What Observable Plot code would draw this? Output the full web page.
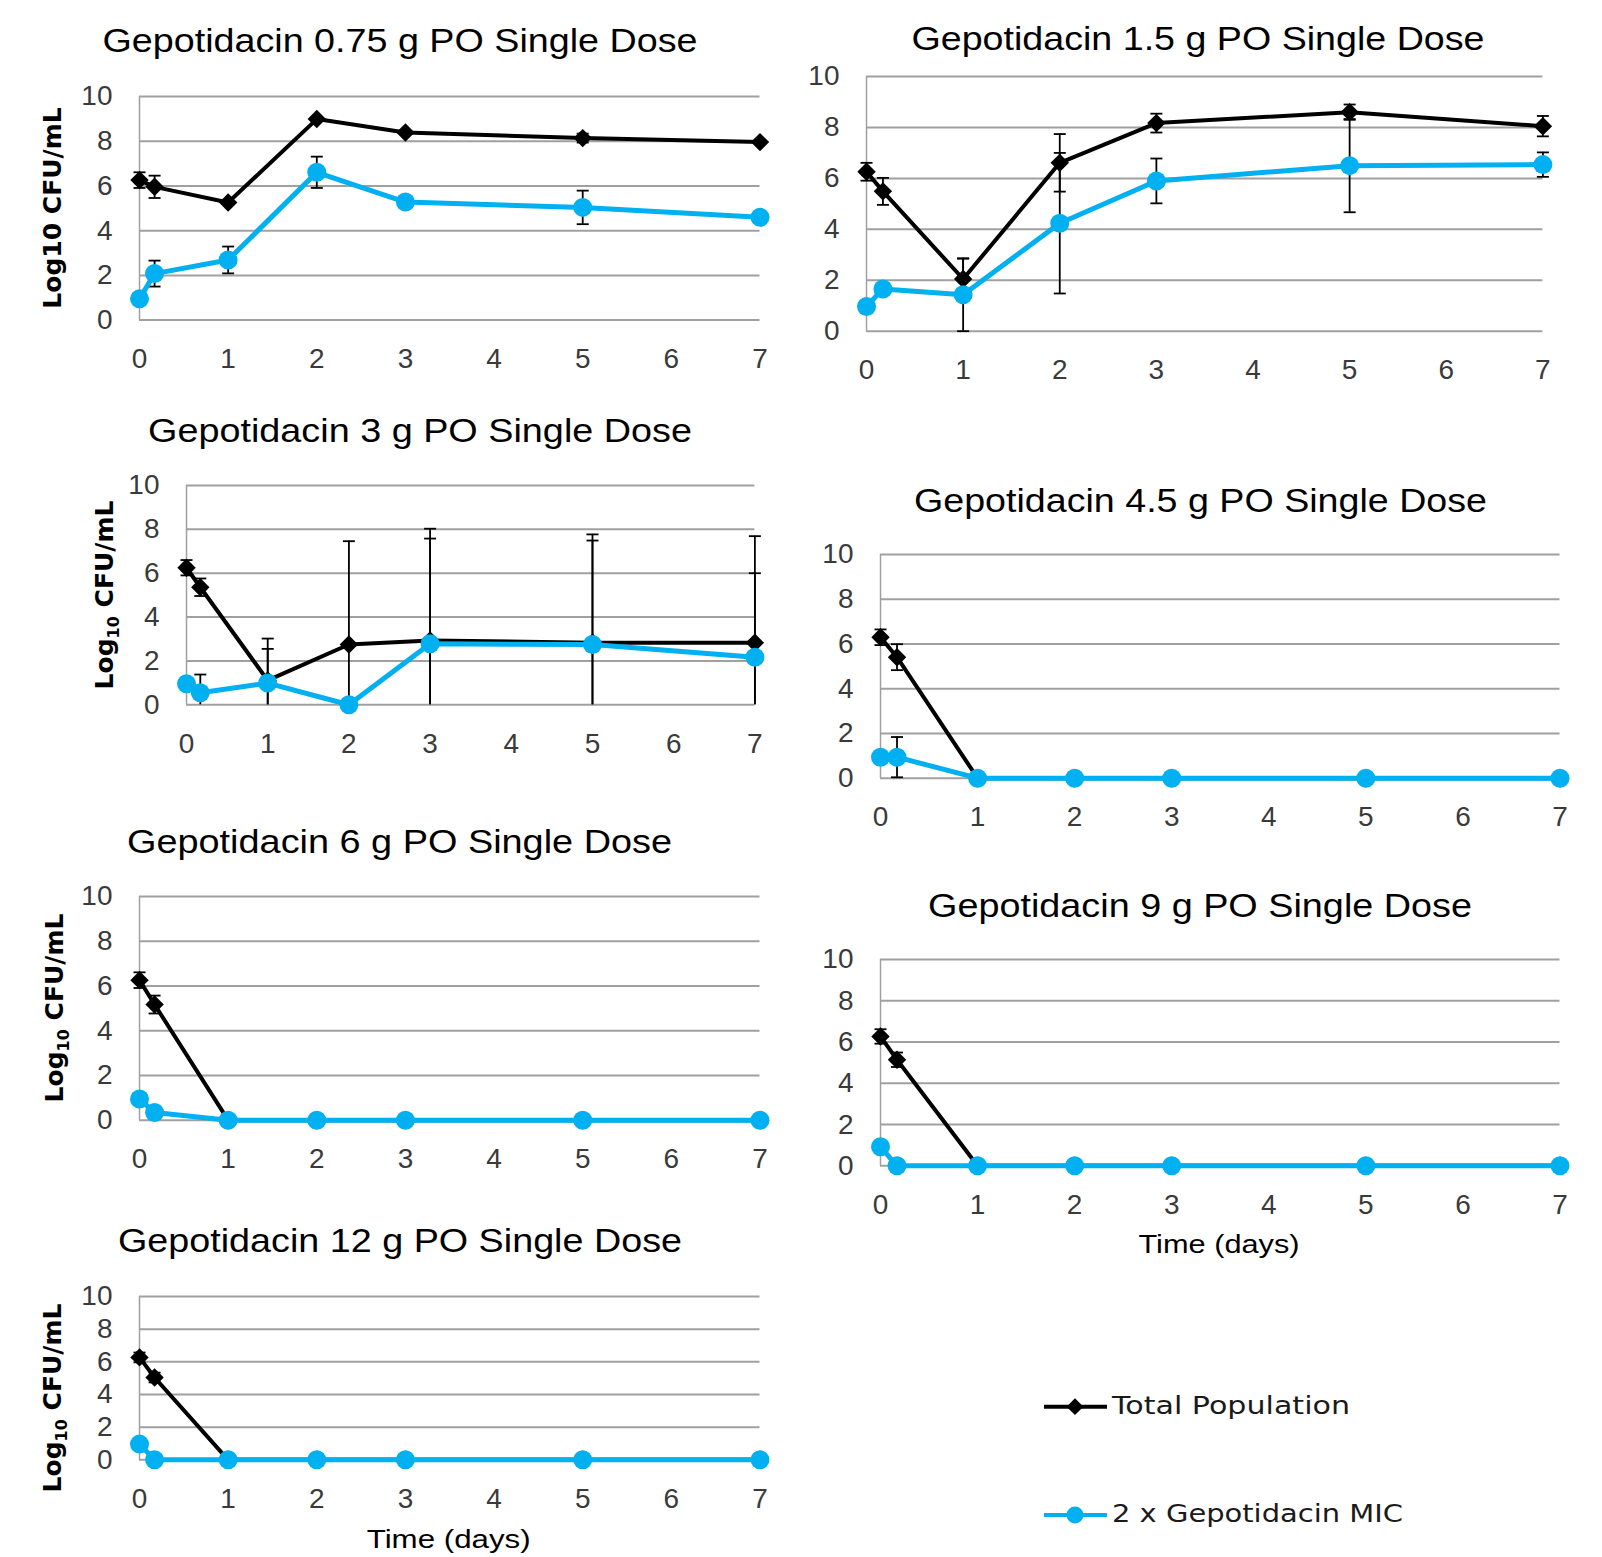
<!DOCTYPE html>
<html><head><meta charset="utf-8">
<script src="https://cdn.jsdelivr.net/npm/d3@7"></script>
<script src="https://cdn.jsdelivr.net/npm/@observablehq/plot@0.6"></script>
<style>
body{margin:0;background:#fff;}
#root{position:relative;width:1602px;height:1557px;background:#fff;overflow:hidden;}
.panel{position:absolute;}
.panel svg{overflow:visible;max-width:none;}
#overlay{position:absolute;left:0;top:0;pointer-events:none;overflow:visible;}
</style></head><body><div id="root"></div>
<script>
// ---- data ----
const days = [0, 0.17, 1, 2, 3, 5, 7];
const xTicks = [0, 1, 2, 3, 4, 5, 6, 7];
const yTicks = [0, 2, 4, 6, 8, 10];
const seriesNames = ["Total Population", "2 x Gepotidacin MIC"];
const titles = [
  "Gepotidacin 0.75 g PO Single Dose",
  "Gepotidacin 1.5 g PO Single Dose",
  "Gepotidacin 3 g PO Single Dose",
  "Gepotidacin 4.5 g PO Single Dose",
  "Gepotidacin 6 g PO Single Dose",
  "Gepotidacin 9 g PO Single Dose",
  "Gepotidacin 12 g PO Single Dose"
];
const xLabel = "Time (days)";

const total075 = [6.26, 5.96, 5.26, 8.99, 8.39, 8.14, 7.96];
const total075Err = [0.35, 0.5, 0, 0, 0, 0.2, 0];
const mic075 = [0.95, 2.08, 2.69, 6.61, 5.28, 5.04, 4.6];
const mic075Err = [0, 0.58, 0.6, 0.7, 0, 0.75, 0];

const total15 = [6.26, 5.49, 2.05, 6.61, 8.17, 8.6, 8.05];
const total15Err = [0.35, 0.53, 0.8, 1.13, 0.37, 0.3, 0.4];
const mic15 = [0.97, 1.66, 1.43, 4.24, 5.9, 6.5, 6.54];
const mic15Err = [0, 0, 1.43, 2.76, 0.88, 1.83, 0.48];

const total3 = [6.25, 5.36, 1.11, 2.75, 2.93, 2.83, 2.83];
const total3Err = [0.35, 0.4, 1.91, 4.71, 5.1, 4.94, 4.86];
const mic3 = [0.96, 0.55, 0.99, 0, 2.78, 2.75, 2.17];
const mic3Err = [0, 0.83, 1.56, 0, 4.8, 4.74, 3.83];

const total45 = [6.3, 5.41, 0, 0, 0, 0, 0];
const total45Err = [0.35, 0.58, 0, 0, 0, 0, 0];
const mic45 = [0.94, 0.94, 0, 0, 0, 0, 0];
const mic45Err = [0, 0.9, 0, 0, 0, 0, 0];

const total6 = [6.26, 5.17, 0, 0, 0, 0, 0];
const total6Err = [0.35, 0.4, 0, 0, 0, 0, 0];
const mic6 = [0.95, 0.34, 0, 0, 0, 0, 0];
const mic6Err = [0, 0, 0, 0, 0, 0, 0];

const total9 = [6.27, 5.14, 0, 0, 0, 0, 0];
const total9Err = [0.35, 0.35, 0, 0, 0, 0, 0];
const mic9 = [0.92, 0, 0, 0, 0, 0, 0];
const mic9Err = [0, 0, 0, 0, 0, 0, 0];

const total12 = [6.27, 5.04, 0, 0, 0, 0, 0];
const total12Err = [0.3, 0.3, 0, 0, 0, 0, 0];
const mic12 = [0.96, 0, 0, 0, 0, 0, 0];
const mic12Err = [0, 0, 0, 0, 0, 0, 0];

const panelData = [
  [total075, total075Err, mic075, mic075Err],
  [total15, total15Err, mic15, mic15Err],
  [total3, total3Err, mic3, mic3Err],
  [total45, total45Err, mic45, mic45Err],
  [total6, total6Err, mic6, mic6Err],
  [total9, total9Err, mic9, mic9Err],
  [total12, total12Err, mic12, mic12Err]
];

// ---- layout & style ----
const BLACK = "#000000", BLUE = "#00B0F0", GRID = "#a0a0a0";
const layout = [
  {x0: 138.5, x7: 759, y10: 95.7, y0: 319.3, tx: 400, ty: 52, tw: 595, yl: [61, 208, false]},
  {x0: 865.6, x7: 1542, y10: 76, y0: 330.7, tx: 1198, ty: 50, tw: 573, yl: null},
  {x0: 185.6, x7: 754, y10: 485, y0: 704.3, tx: 420, ty: 441.7, tw: 544, yl: [113, 595, true]},
  {x0: 879.5, x7: 1559, y10: 554, y0: 777.7, tx: 1200.5, ty: 511.7, tw: 573, yl: null},
  {x0: 138.5, x7: 759, y10: 896.3, y0: 1120, tx: 399.5, ty: 853, tw: 545, yl: [63, 1008, true]},
  {x0: 879.5, x7: 1559, y10: 958.7, y0: 1165, tx: 1200, ty: 916.7, tw: 544, yl: null, xl: [1219, 1253.3, 161]},
  {x0: 138.5, x7: 759, y10: 1295.7, y0: 1459, tx: 400, ty: 1251.7, tw: 564, yl: [61, 1398, true], xl: [448.7, 1548, 164]}
];
const ML = 80, MR = 25, MT = 20, MB = 60;
const SANS = "'Liberation Sans', Arial, sans-serif";
const WIDE = "'DejaVu Sans', sans-serif";

const capSymbol = {
  draw(ctx, size) {
    const w = Math.sqrt(size / Math.PI);
    ctx.moveTo(-w, 0);
    ctx.lineTo(w, 0);
  }
};

const root = document.getElementById("root");

layout.forEach((L, i) => {
  const [tv, te, mv, me] = panelData[i];
  const tot = days.map((d, j) => ({day: d, v: tv[j], e: te[j], s: seriesNames[0]}));
  const mic = days.map((d, j) => ({day: d, v: mv[j], e: me[j], s: seriesNames[1]}));
  const errs = [...tot, ...mic].filter(r => r.e > 0);
  const bars = errs.map(r => ({day: r.day, lo: Math.max(0, r.v - r.e), hi: r.v + r.e}));
  const caps = errs.flatMap(r => {
    const out = [{day: r.day, y: r.v + r.e}];
    if (r.v - r.e >= 0) out.push({day: r.day, y: r.v - r.e});
    return out;
  });
  const w = (L.x7 - L.x0) + ML + MR;
  const h = (L.y0 - L.y10) + MT + MB;
  const chart = Plot.plot({
    width: w, height: h,
    marginLeft: ML, marginRight: MR, marginTop: MT, marginBottom: MB,
    style: {background: "transparent", overflow: "visible", fontFamily: SANS, fontSize: "28px", color: "#3a3a3a"},
    x: {domain: [0, 7]},
    y: {domain: [0, 10]},
    marks: [
      Plot.gridY(yTicks, {stroke: GRID, strokeOpacity: 1, strokeWidth: 2}),
      Plot.ruleX([0], {stroke: GRID, strokeWidth: 1.5}),
      Plot.axisX(xTicks, {tickSize: 0, tickPadding: 28, label: null, tickFormat: d => String(d)}),
      Plot.axisY(yTicks, {tickSize: 0, tickPadding: 27, label: null, tickFormat: d => String(d)}),
      Plot.ruleX(bars, {x: "day", y1: "lo", y2: "hi", stroke: BLACK, strokeWidth: 1.8}),
      Plot.dot(caps, {x: "day", y: "y", symbol: capSymbol, r: 6, stroke: BLACK, strokeWidth: 1.8, fill: "none"}),
      Plot.line(tot, {x: "day", y: "v", stroke: BLACK, strokeWidth: 4}),
      Plot.dot(tot, {x: "day", y: "v", symbol: "diamond2", r: 8.3, fill: BLACK, stroke: "none"}),
      Plot.line(mic, {x: "day", y: "v", stroke: BLUE, strokeWidth: 5}),
      Plot.dot(mic, {x: "day", y: "v", r: 9.5, fill: BLUE, stroke: "none"})
    ]
  });
  const div = document.createElement("div");
  div.className = "panel";
  div.style.left = (L.x0 - ML) + "px";
  div.style.top = (L.y10 - MT) + "px";
  div.style.width = w + "px";
  div.appendChild(chart);
  root.appendChild(div);
});

// ---- text overlay ----
const ov = d3.select(root).append("svg").attr("id", "overlay").attr("width", 1602).attr("height", 1557);

layout.forEach((L, i) => {
  ov.append("text").attr("x", L.tx).attr("y", L.ty).attr("text-anchor", "middle")
    .attr("font-family", SANS).attr("font-size", 32.5)
    .attr("textLength", L.tw).attr("lengthAdjust", "spacingAndGlyphs")
    .attr("fill", "#000").text(titles[i]);
  if (L.yl) {
    const [bx, cy, sub] = L.yl;
    const t = ov.append("text").attr("transform", `translate(${bx},${cy}) rotate(-90)`)
      .attr("text-anchor", "middle").attr("font-family", WIDE)
      .attr("font-weight", "bold").attr("font-size", 25).attr("fill", "#000");
    if (sub) {
      t.append("tspan").text("Log");
      t.append("tspan").attr("font-size", 16).attr("dy", 6).text("10");
      t.append("tspan").attr("dy", -6).text(" CFU/mL");
    } else {
      t.text("Log10 CFU/mL");
    }
  }
  if (L.xl) {
    ov.append("text").attr("x", L.xl[0]).attr("y", L.xl[1]).attr("text-anchor", "middle")
      .attr("font-family", SANS).attr("font-size", 26)
      .attr("textLength", L.xl[2]).attr("lengthAdjust", "spacingAndGlyphs")
      .attr("fill", "#000").text(xLabel);
  }
});

// legend
const legendRows = [
  {name: seriesNames[0], color: BLACK, sym: "diamond", y: 1406.7, ty: 1414, tw: 238},
  {name: seriesNames[1], color: BLUE, sym: "circle", y: 1515, ty: 1521.7, tw: 291}
];
legendRows.forEach(r => {
  ov.append("line").attr("x1", 1044).attr("x2", 1107).attr("y1", r.y).attr("y2", r.y)
    .attr("stroke", r.color).attr("stroke-width", 4);
  if (r.sym === "diamond") {
    ov.append("path").attr("transform", `translate(1075,${r.y})`)
      .attr("d", d3.symbol(d3.symbolDiamond2, 180)()).attr("fill", r.color);
  } else {
    ov.append("circle").attr("cx", 1075).attr("cy", r.y).attr("r", 8.5).attr("fill", r.color);
  }
  ov.append("text").attr("x", 1112).attr("y", r.ty).attr("font-family", WIDE)
    .attr("font-size", 24).attr("textLength", r.tw).attr("lengthAdjust", "spacingAndGlyphs")
    .attr("fill", "#1a1a1a").text(r.name);
});
</script></body></html>
